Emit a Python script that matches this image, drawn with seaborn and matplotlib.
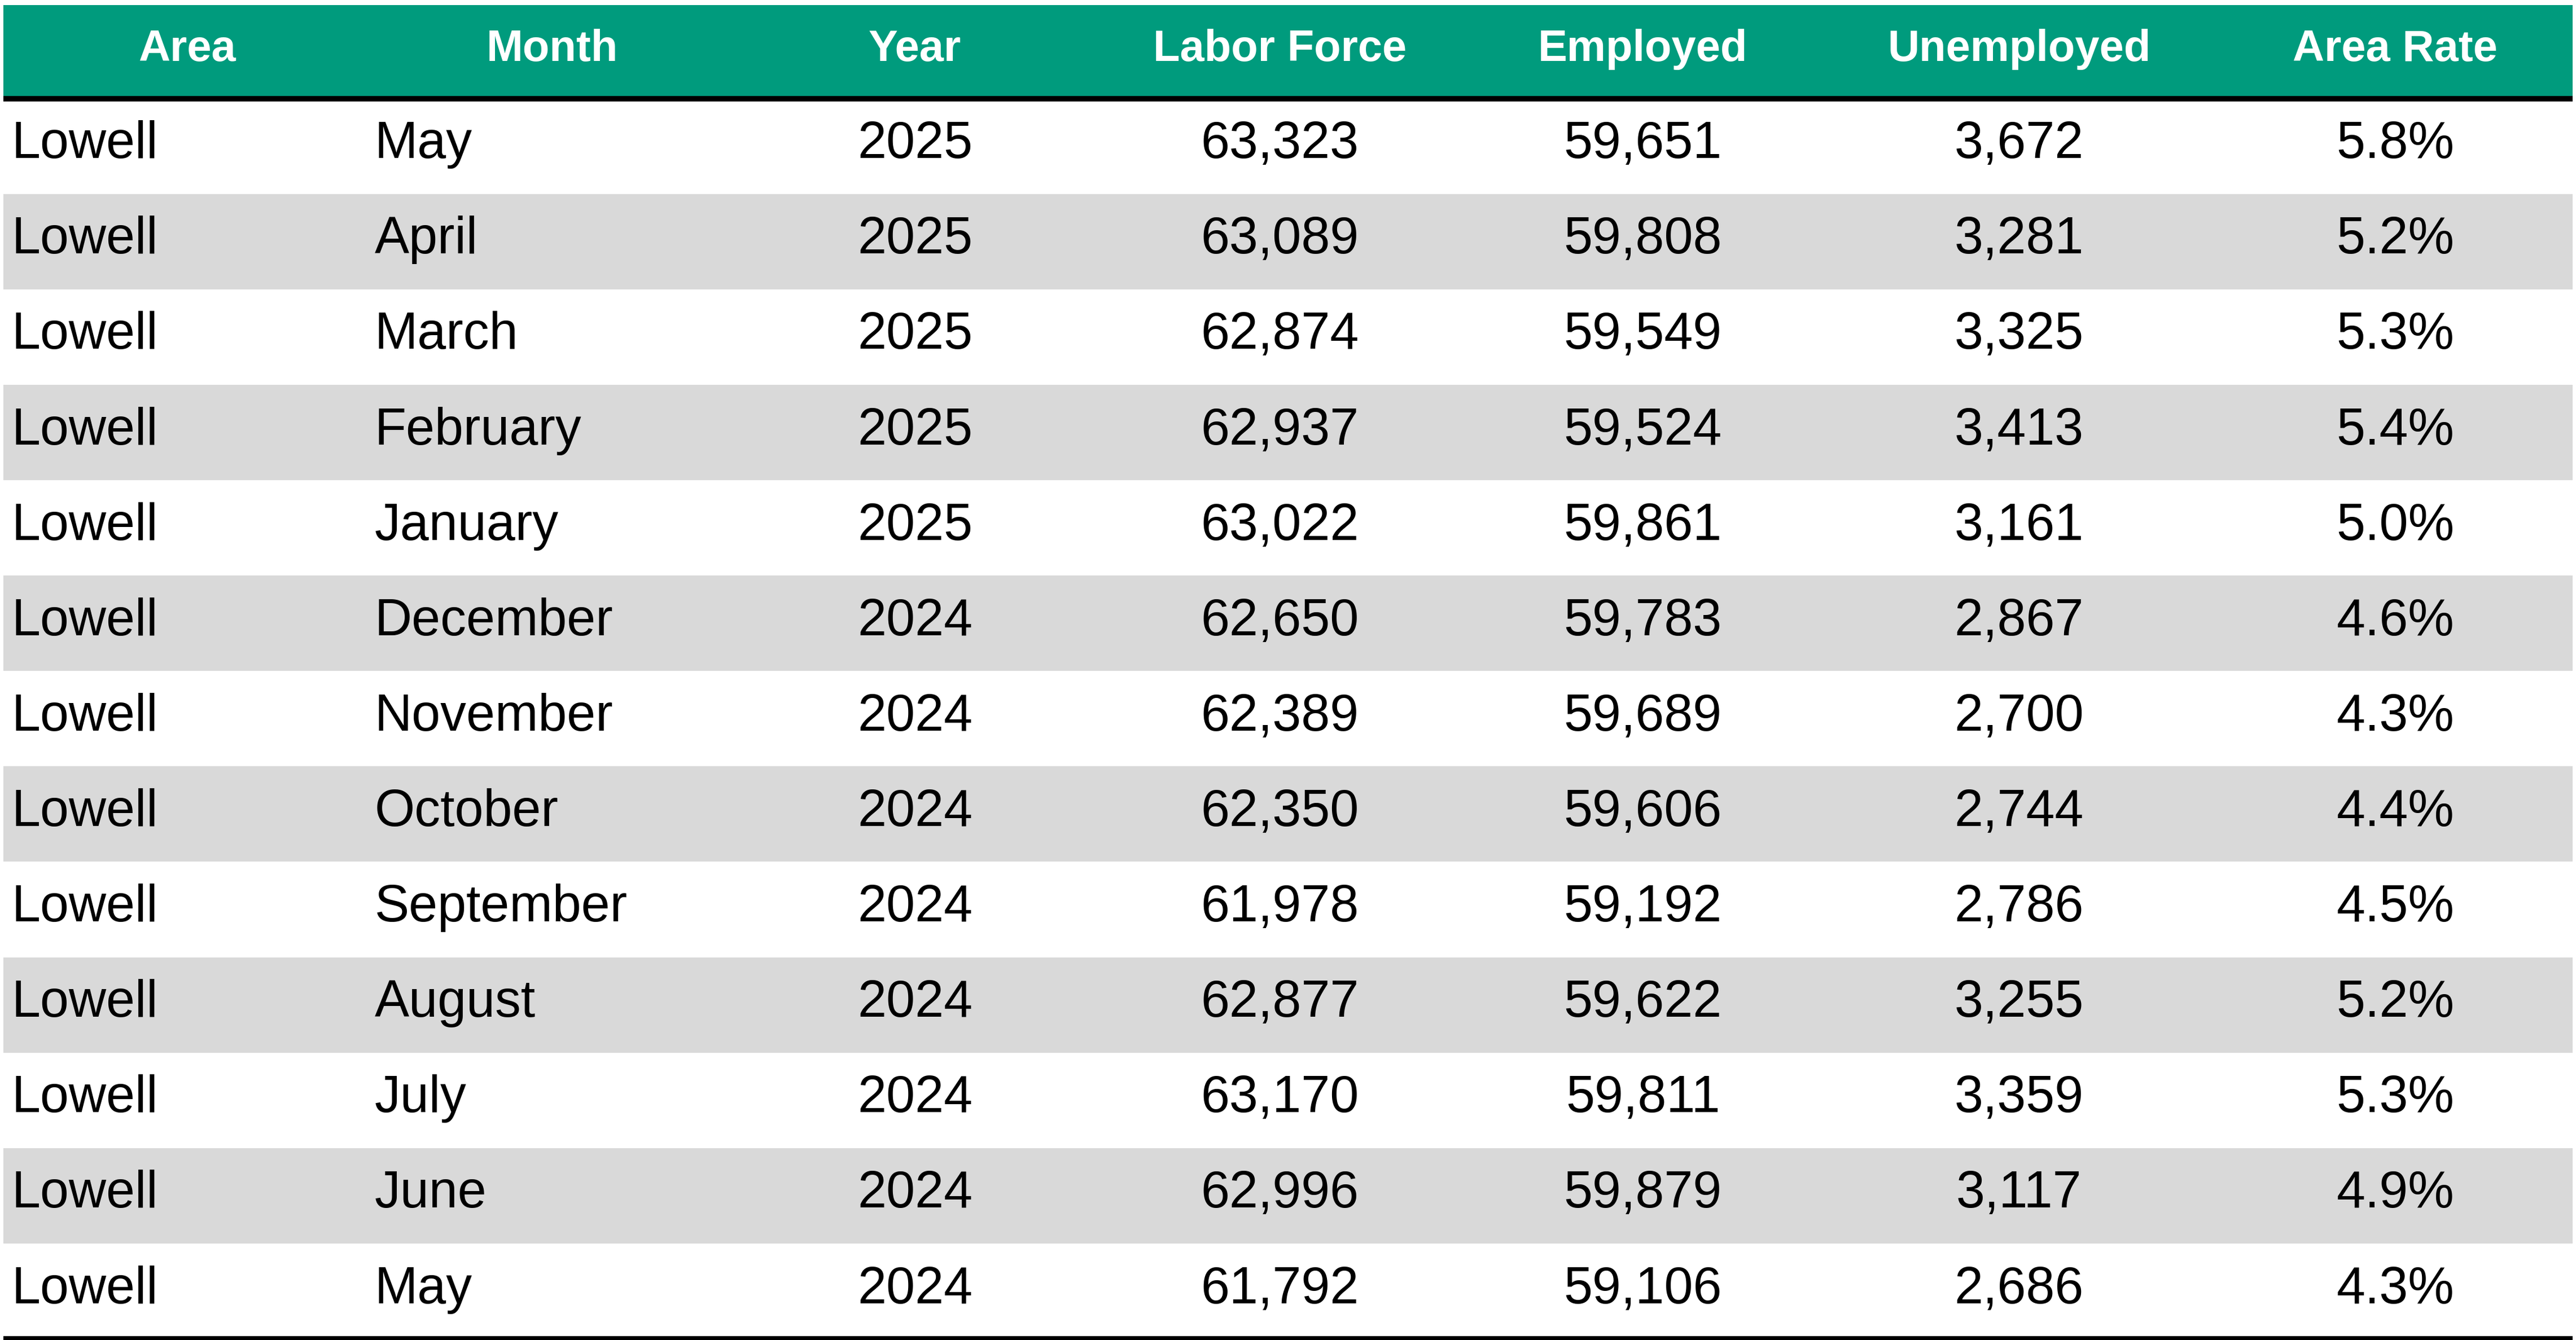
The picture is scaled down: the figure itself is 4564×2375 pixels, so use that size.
import matplotlib
matplotlib.use("Agg")
import matplotlib.pyplot as plt
import seaborn as sns
from matplotlib.patches import Rectangle

sns.set_theme(style="white")

# Table data
headers = ["Area", "Month", "Year", "Labor Force", "Employed", "Unemployed", "Area Rate"]
areas = ["Lowell"] * 13
months = ["May", "April", "March", "February", "January", "December", "November",
          "October", "September", "August", "July", "June", "May"]
years = [2025, 2025, 2025, 2025, 2025, 2024, 2024, 2024, 2024, 2024, 2024, 2024, 2024]
labor_force = [63323, 63089, 62874, 62937, 63022, 62650, 62389, 62350, 61978, 62877, 63170, 62996, 61792]
employed = [59651, 59808, 59549, 59524, 59861, 59783, 59689, 59606, 59192, 59622, 59811, 59879, 59106]
unemployed = [3672, 3281, 3325, 3413, 3161, 2867, 2700, 2744, 2786, 3255, 3359, 3117, 2686]
area_rate = [5.8, 5.2, 5.3, 5.4, 5.0, 4.6, 4.3, 4.4, 4.5, 5.2, 5.3, 4.9, 4.3]

W, H = 1568, 816
fig = plt.figure(figsize=(45.64, 23.75), dpi=100)
ax = fig.add_axes([0, 0, 1, 1])
ax.set_xlim(0, W)
ax.set_ylim(H, 0)
ax.axis("off")

green = "#009B7D"
gray = "#D9D9D9"
font = "Liberation Sans"

# header
ax.add_patch(Rectangle((2, 3), W - 4, 56, color=green, lw=0))
header_x = [114, 336, 557, 779, 1000, 1229, 1458]
for x, h in zip(header_x, headers):
    ax.text(x, 30, h, ha="center", va="center", color="white", fontsize=56,
            fontweight="bold", family=font)
ax.plot([2, W - 2], [60, 60], color="black", lw=7, solid_capstyle="butt")

top, rh = 60, 58.1
for i in range(len(months)):
    y0 = top + i * rh
    yc = y0 + rh / 2 - 1
    if i % 2 == 1:
        ax.add_patch(Rectangle((2, y0), W - 4, rh, color=gray, lw=0))
    vals = [areas[i], months[i], str(years[i]), f"{labor_force[i]:,}", f"{employed[i]:,}",
            f"{unemployed[i]:,}", f"{area_rate[i]:.1f}%"]
    ax.text(7, yc, vals[0], ha="left", va="center", fontsize=66, family=font, color="black")
    ax.text(228, yc, vals[1], ha="left", va="center", fontsize=66, family=font, color="black")
    for x, v in zip(header_x[2:], vals[2:]):
        ax.text(x, yc, v, ha="center", va="center", fontsize=66, family=font, color="black")

ax.plot([2, W - 2], [top + 13 * rh, top + 13 * rh], color="black", lw=7, solid_capstyle="butt")

fig.savefig("out.png", dpi=100, facecolor="white")
